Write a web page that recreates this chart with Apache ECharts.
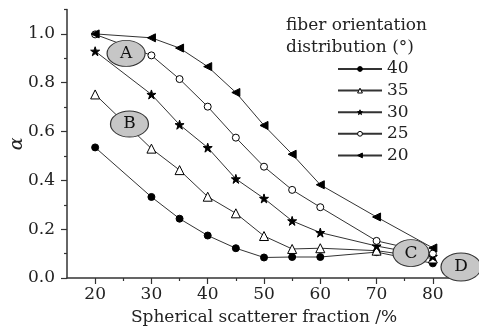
<!DOCTYPE html>
<html><head><meta charset="utf-8">
<script src="https://cdn.jsdelivr.net/npm/echarts@6/dist/echarts.min.js"></script>
<style>html,body{margin:0;padding:0;background:#fff}#c{width:479px;height:330px}</style>
</head><body><div id="c"></div>
<script>
const xValues = [20, 30, 35, 40, 45, 50, 55, 60, 70, 80];
const seriesNames = ['40', '35', '30', '25', '20'];
const s40 = [0.535, 0.332, 0.243, 0.174, 0.122, 0.084, 0.086, 0.086, 0.106, 0.060];
const s35 = [0.752, 0.530, 0.442, 0.333, 0.265, 0.172, 0.119, 0.122, 0.112, 0.080];
const s30 = [0.929, 0.752, 0.628, 0.534, 0.406, 0.326, 0.234, 0.186, 0.131, 0.088];
const s25 = [0.998, 0.912, 0.815, 0.702, 0.575, 0.456, 0.361, 0.290, 0.152, 0.100];
const s20 = [1.000, 0.984, 0.942, 0.866, 0.760, 0.625, 0.507, 0.382, 0.250, 0.123];
const xTickLabels = [20, 30, 40, 50, 60, 70, 80];
const xMinorTicks = [25, 35, 45, 55, 65, 75, 85];
const yTickLabels = [0, 0.2, 0.4, 0.6, 0.8, 1.0];
const yMinorTicks = [0.1, 0.3, 0.5, 0.7, 0.9, 1.1];
const annotLabels = ['A', 'B', 'C', 'D'];
const annotX = [25.5, 26.1, 76.1, 85.0];
const annotY = [0.92, 0.631, 0.102, 0.045];

const FONT = '"DejaVu Serif", "Liberation Serif", serif';
const INK = '#222';
const starPath = 'path://M50,0 L61.8,35.1 L98.9,35.1 L68.9,56.9 L80.3,92 L50,70.2 L19.7,92 L31.1,56.9 L1.1,35.1 L38.2,35.1 Z';
const leftTri = 'path://M0,50 L90,0 L90,100 Z';
const ellipsePath = 'path://M0,50 A50,50 0 1,1 100,50 A50,50 0 1,1 0,50 Z';
const styles = {
  '40': {symbol: 'circle', size: 7, fill: '#000'},
  '35': {symbol: 'triangle', size: 9, fill: '#fff'},
  '30': {symbol: starPath, size: 9, fill: '#000'},
  '25': {symbol: 'circle', size: 7, fill: '#fff'},
  '20': {symbol: leftTri, size: 8, fill: '#000'}
};
const dataMap = {'40': s40, '35': s35, '30': s30, '25': s25, '20': s20};

const series = seriesNames.map(name => ({
  name: name,
  type: 'line',
  data: xValues.map((x, i) => [x, dataMap[name][i]]),
  symbol: styles[name].symbol,
  symbolSize: styles[name].size,
  showAllSymbol: true,
  lineStyle: {color: '#333', width: 1},
  itemStyle: {color: styles[name].fill, borderColor: '#000', borderWidth: 1},
  emphasis: {disabled: true},
  animation: false,
  z: 2
}));
series.push({
  type: 'line', data: [], silent: true, animation: false,
  markPoint: {
    symbol: ellipsePath,
    animation: false,
    z: 10,
    itemStyle: {color: '#c6c6c6', borderColor: '#333', borderWidth: 1},
    label: {show: true, position: 'inside', color: '#111', fontFamily: FONT, fontSize: 17},
    data: annotLabels.map((t, i) => ({
      name: t, coord: [annotX[i], annotY[i]],
      symbolSize: i === 2 ? [36, 27] : (i === 3 ? [40, 28] : [38, 26]),
      label: {formatter: t}
    }))
  }
});

const chart = echarts.init(document.getElementById('c'));
chart.setOption({
  backgroundColor: '#fff',
  animation: false,
  title: {
    text: 'fiber orientation\ndistribution (°)',
    left: 281, top: 10,
    textStyle: {fontFamily: FONT, fontSize: 17, fontWeight: 'normal', color: INK, lineHeight: 22}
  },
  legend: {
    data: seriesNames.map(n => ({name: n, itemStyle: {color: styles[n].fill, borderColor: '#000', borderWidth: 1}})),
    orient: 'vertical',
    left: 332, top: 54,
    itemWidth: 44, itemHeight: 6,
    itemGap: 1.6,
    textStyle: {fontFamily: FONT, fontSize: 17, color: INK, lineHeight: 20},
    inactiveColor: '#000'
  },
  grid: {left: 67, right: 18, top: 9.5, bottom: 52, containLabel: false, outerBoundsMode: 'none'},
  xAxis: [{
    type: 'value', min: 15, max: 85, position: 'bottom',
    name: 'Spherical scatterer fraction /%', nameLocation: 'middle', nameGap: 31,
    nameMoveOverlap: false,
    nameTextStyle: {fontFamily: FONT, fontSize: 17, color: INK},
    axisLine: {show: true, lineStyle: {color: '#333', width: 1.5}},
    axisTick: {show: true, inside: false, length: 6, lineStyle: {color: '#333', width: 1.2}, customValues: xTickLabels},
    axisLabel: {fontFamily: FONT, fontSize: 17, color: INK, margin: 8, customValues: xTickLabels},
    splitLine: {show: false}
  }, {
    type: 'value', min: 15, max: 85, position: 'bottom', gridIndex: 0,
    axisLine: {show: false},
    axisTick: {show: true, inside: false, length: 3, lineStyle: {color: '#333', width: 1.2}, customValues: xMinorTicks},
    axisLabel: {show: false},
    splitLine: {show: false}
  }],
  yAxis: [{
    type: 'value', min: 0, max: 1.1,
    name: 'α', nameLocation: 'middle', nameGap: 40,
    nameMoveOverlap: false,
    nameTextStyle: {fontFamily: FONT, fontSize: 19, fontStyle: 'italic', color: INK},
    axisLine: {show: true, lineStyle: {color: '#333', width: 1.5}},
    axisTick: {show: true, inside: false, length: 6, lineStyle: {color: '#333', width: 1.2}, customValues: yTickLabels},
    axisLabel: {fontFamily: FONT, fontSize: 17, color: INK, margin: 12, customValues: yTickLabels,
      formatter: v => v.toFixed(1)},
    splitLine: {show: false}
  }, {
    type: 'value', min: 0, max: 1.1, position: 'left', gridIndex: 0,
    axisLine: {show: false},
    axisTick: {show: true, inside: false, length: 3, lineStyle: {color: '#333', width: 1.2}, customValues: yMinorTicks},
    axisLabel: {show: false},
    splitLine: {show: false}
  }],
  series: series
});
</script></body></html>
